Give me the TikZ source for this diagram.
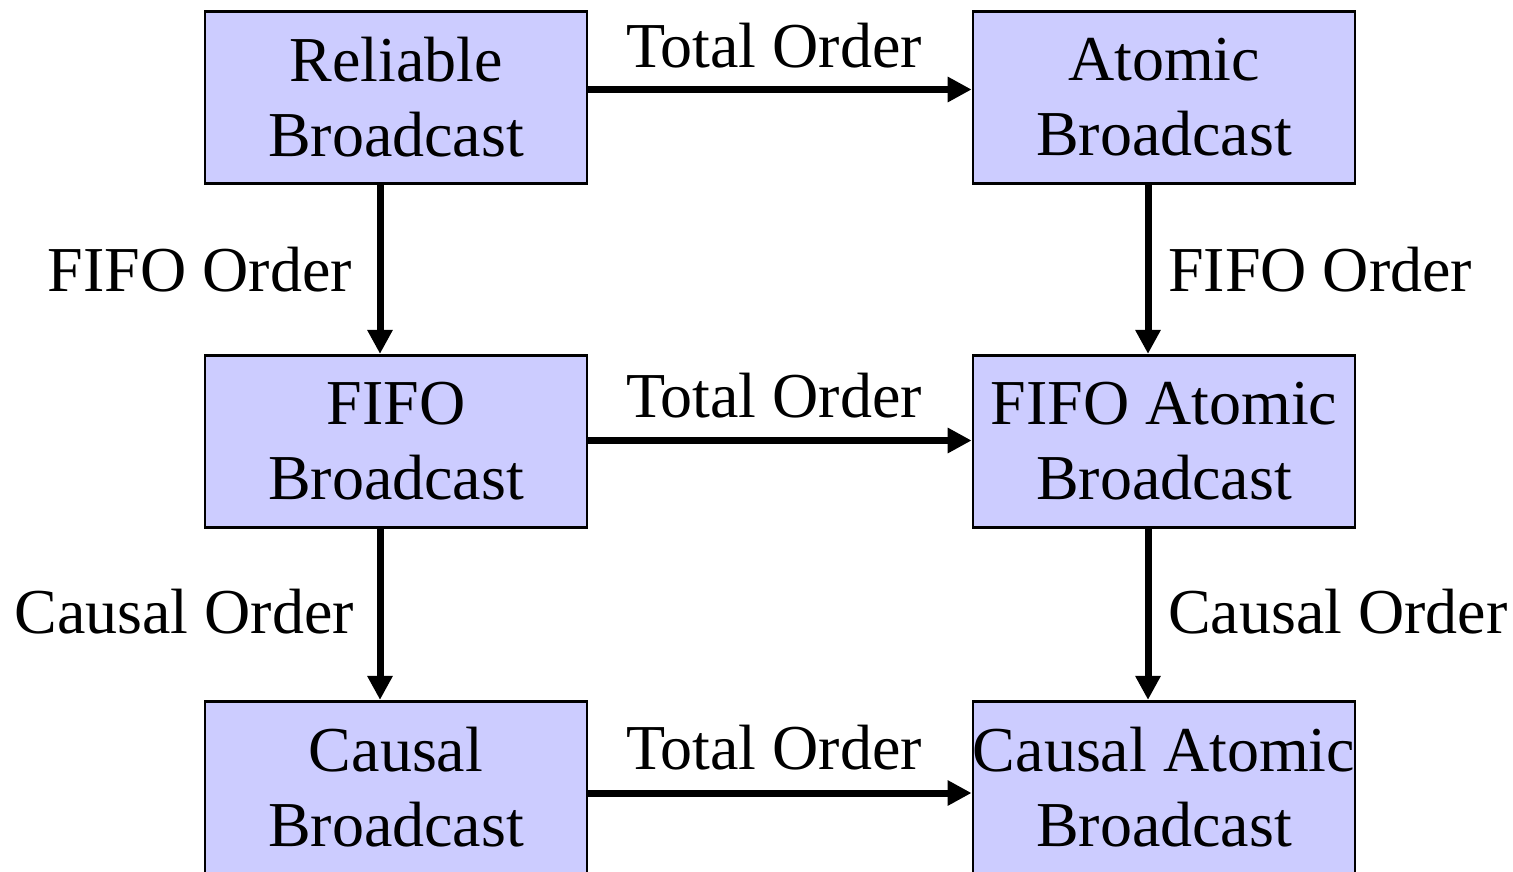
\documentclass[tikz,border=0pt]{standalone}
\usepackage{fontspec}
\setmainfont{Liberation Serif}
\usetikzlibrary{arrows.meta}
\definecolor{boxfill}{RGB}{204,204,255}
\begin{document}
\begin{tikzpicture}[x=1pt,y=-1pt,
  every node/.style={font=\fontsize{64}{75}\selectfont},
  bcast/.style={draw=black, line width=2.7pt, fill=boxfill, rectangle,
    minimum width=382pt, minimum height=172.5pt, inner sep=0pt, align=center},
  implies/.style={line width=7pt, -{Triangle[length=24pt,width=24pt]}},
  orderlabel/.style={inner sep=0pt}]
\useasboundingbox (0,0) rectangle (1513,871);

% broadcast abstractions
\node[bcast] (rb)  at (396,97.5)   {Reliable\\Broadcast};
\node[bcast] (ab)  at (1164,97.5)  {Atomic\\Broadcast};
\node[bcast] (fb)  at (396,441.5)  {FIFO\\Broadcast};
\node[bcast] (fab) at (1164,441.5) {FIFO Atomic\\Broadcast};
\node[bcast] (cb)  at (396,787.5)  {Causal\\Broadcast};
\node[bcast] (cab) at (1164,787.5) {Causal Atomic\\Broadcast};

% adding total order
\draw[implies] ([yshift=8pt]rb.east) -- ([yshift=8pt]ab.west);
\draw[implies] ([yshift=1pt]fb.east) -- ([yshift=1pt]fab.west);
\draw[implies] ([yshift=-5.5pt]cb.east) -- ([yshift=-5.5pt]cab.west);

% adding FIFO and causal order
\draw[implies] ([xshift=-16pt]rb.south) -- ([xshift=-16pt]fb.north);
\draw[implies] ([xshift=-16pt]fb.south) -- ([xshift=-16pt]cb.north);
\draw[implies] ([xshift=-16pt]ab.south) -- ([xshift=-16pt]fab.north);
\draw[implies] ([xshift=-16pt]fab.south) -- ([xshift=-16pt]cab.north);

% edge labels
\node[orderlabel, anchor=base] (t1) at (774,67)  {Total Order};
\node[orderlabel, anchor=base] (t2) at (774,417) {Total Order};
\node[orderlabel, anchor=base] (t3) at (774,769) {Total Order};
\node[orderlabel, anchor=base east] (f1) at (352,291)  {FIFO Order};
\node[orderlabel, anchor=base west] (f2) at (1168,291) {FIFO Order};
\node[orderlabel, anchor=base east] (c1) at (354,633)  {Causal Order};
\node[orderlabel, anchor=base west] (c2) at (1168,633) {Causal Order};
\end{tikzpicture}
\end{document}
